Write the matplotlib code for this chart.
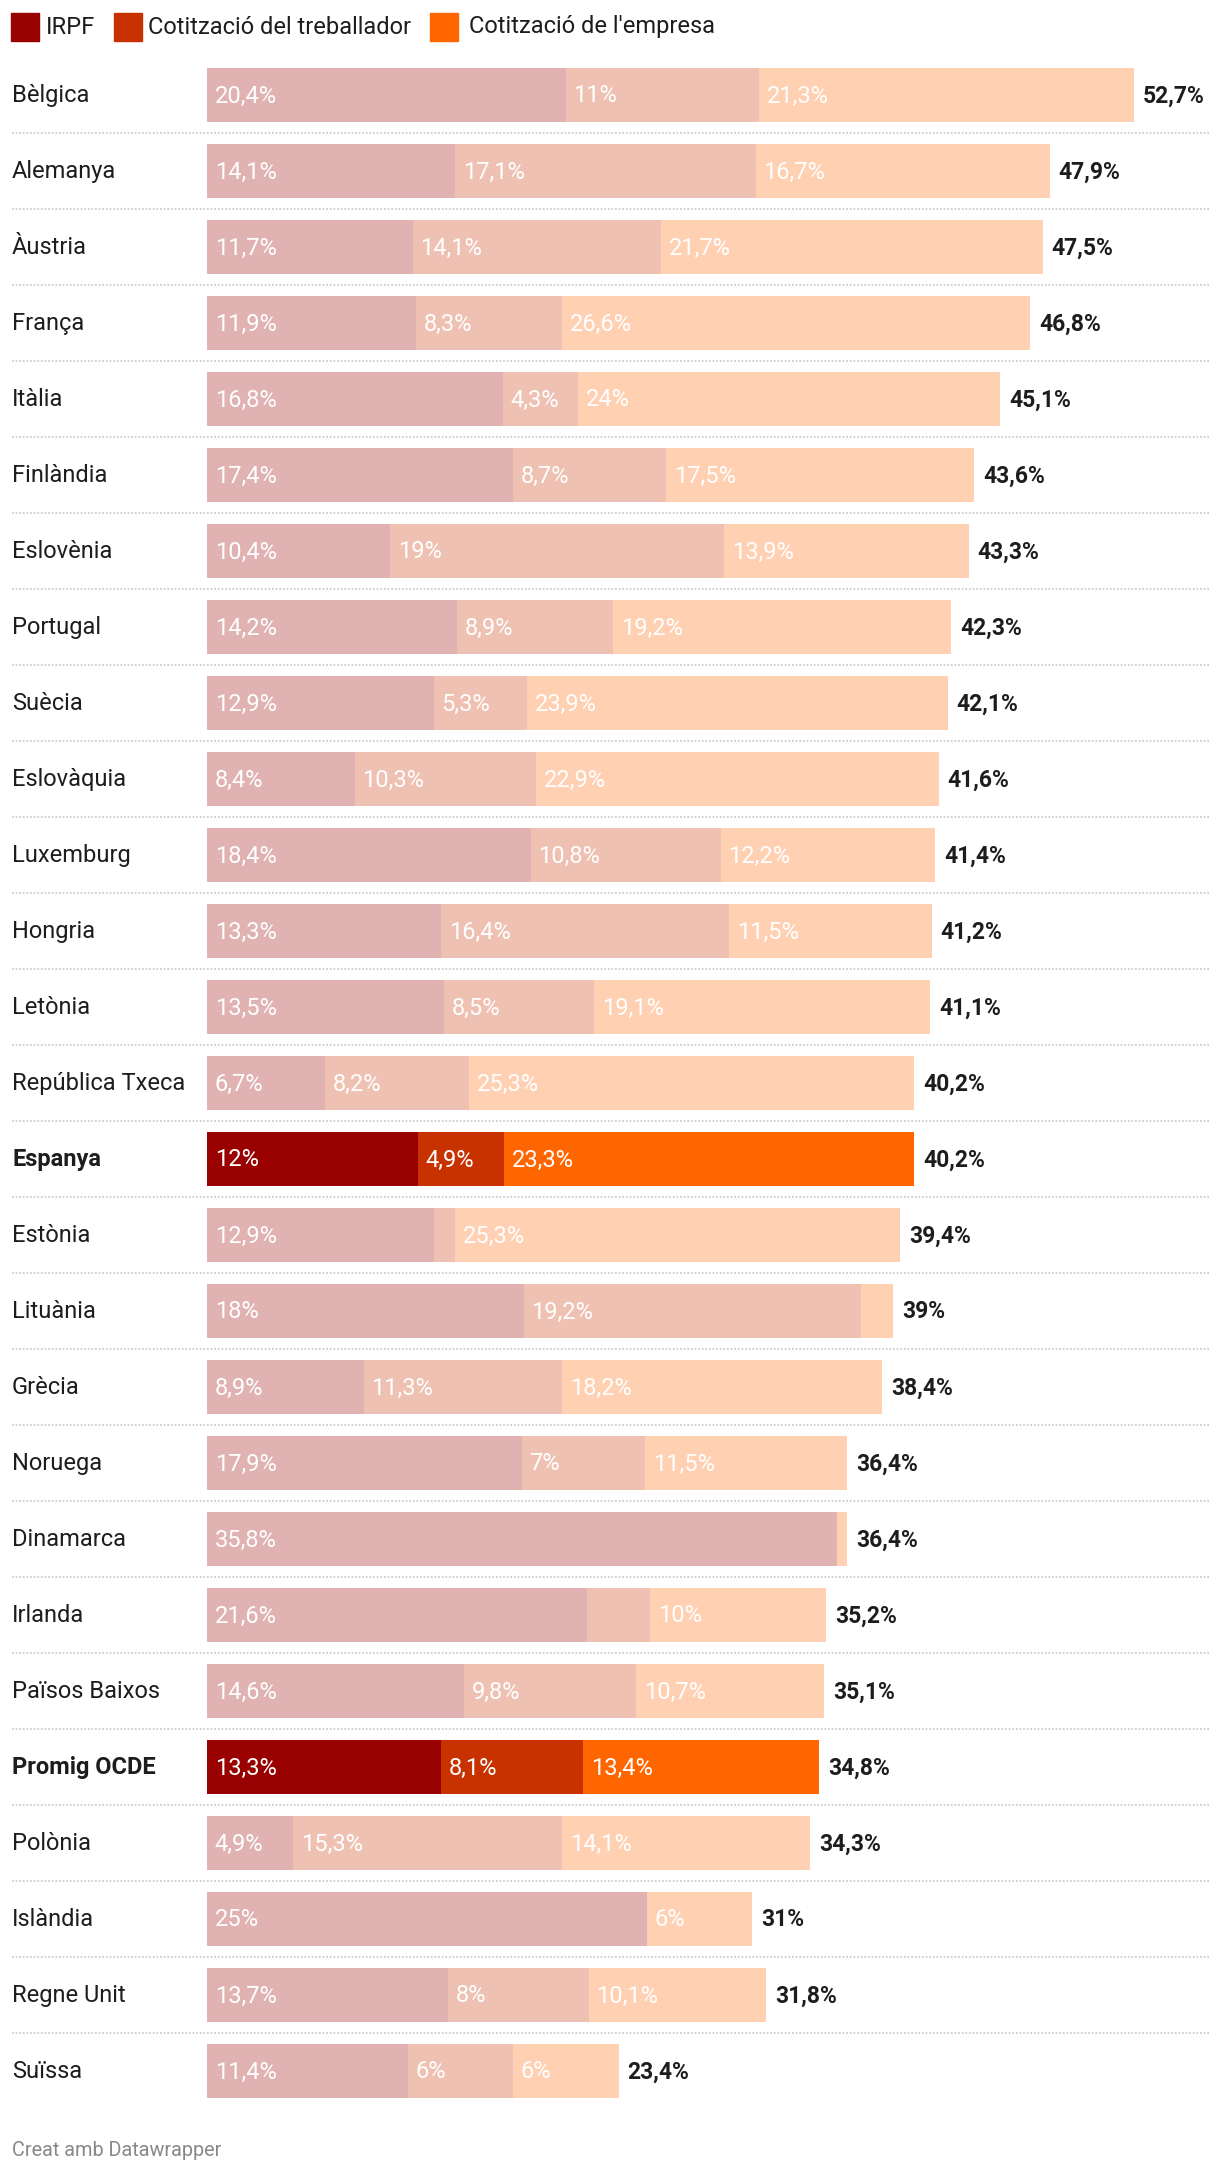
import matplotlib.pyplot as plt
from matplotlib.patches import Rectangle

plt.rcParams['font.family'] = ['Roboto', 'DejaVu Sans']

paisos = ['Bèlgica', 'Alemanya', 'Àustria', 'França', 'Itàlia', 'Finlàndia', 'Eslovènia',
          'Portugal', 'Suècia', 'Eslovàquia', 'Luxemburg', 'Hongria', 'Letònia',
          'República Txeca', 'Espanya', 'Estònia', 'Lituània', 'Grècia', 'Noruega',
          'Dinamarca', 'Irlanda', 'Països Baixos', 'Promig OCDE', 'Polònia', 'Islàndia',
          'Regne Unit', 'Suïssa']
irpf = [20.4, 14.1, 11.7, 11.9, 16.8, 17.4, 10.4, 14.2, 12.9, 8.4, 18.4, 13.3, 13.5,
        6.7, 12, 12.9, 18, 8.9, 17.9, 35.8, 21.6, 14.6, 13.3, 4.9, 25, 13.7, 11.4]
treballador = [11, 17.1, 14.1, 8.3, 4.3, 8.7, 19, 8.9, 5.3, 10.3, 10.8, 16.4, 8.5,
               8.2, 4.9, 1.2, 19.2, 11.3, 7, 0, 3.6, 9.8, 8.1, 15.3, 0, 8, 6]
empresa = [21.3, 16.7, 21.7, 26.6, 24, 17.5, 13.9, 19.2, 23.9, 22.9, 12.2, 11.5, 19.1,
           25.3, 23.3, 25.3, 1.8, 18.2, 11.5, 0.6, 10, 10.7, 13.4, 14.1, 6, 10.1, 6]
totals = [52.7, 47.9, 47.5, 46.8, 45.1, 43.6, 43.3, 42.3, 42.1, 41.6, 41.4, 41.2, 41.1,
          40.2, 40.2, 39.4, 39, 38.4, 36.4, 36.4, 35.2, 35.1, 34.8, 34.3, 31, 31.8, 23.4]
destacats = ['Espanya', 'Promig OCDE']

series = ['IRPF', 'Cotització del treballador', "Cotització de l'empresa"]
colors = ['#990000', '#c83200', '#ff6600']
text_color = '#1d1d1d'
fs = 17


def fmt(v):
    return f'{v:g}'.replace('.', ',') + '%'


W, H = 1220, 2176
fig = plt.figure(figsize=(W / 100, H / 100), dpi=100)
# axes: x=0 at 207px, 17.59 px per %, rows every 76 px
ax = fig.add_axes([207 / W, (H - 2109) / H, 1000 / W, 2052 / H])
ax.set_xlim(0, 1000 / 17.59)
ax.set_ylim(len(paisos) - 0.5, -0.5)
ax.axis('off')

for i, pais in enumerate(paisos):
    destacat = pais in destacats
    alpha = 1 if destacat else 0.3
    left = 0
    for vals, c in zip([irpf, treballador, empresa], colors):
        v = vals[i]
        if v > 0:
            ax.barh(i, v, left=left, height=0.71, color=c, alpha=alpha, linewidth=0)
            if v >= 4:
                ax.annotate(fmt(v), (left, i), xytext=(5.5, -0.7), textcoords='offset points',
                            ha='left', va='center', color='white', fontsize=fs)
        left += v
    ax.annotate(fmt(totals[i]), (left, i), xytext=(6.5, -0.7), textcoords='offset points',
                ha='left', va='center', color=text_color, fontsize=16.5, fontweight='bold')
    ax.annotate(pais, (-0.195, i), xycoords=ax.get_yaxis_transform(), xytext=(0, -0.7),
                textcoords='offset points', ha='left', va='center',
                color=text_color, fontsize=fs, fontweight='bold' if destacat else 'normal')
    if i < len(paisos) - 1:
        ax.plot([-0.195, 1.003], [i + 0.5, i + 0.5], transform=ax.get_yaxis_transform(),
                color='#cfcfcf', lw=1.3, ls=(0, (1, 1)), clip_on=False)

# legend
leg_x = [(11, 46), (114, 148), (430, 469)]
for (sx, tx), name, c in zip(leg_x, series, colors):
    fig.patches.append(Rectangle((sx / W, 1 - 41 / H), 28 / W, 28 / H, color=c,
                                 transform=fig.transFigure))
    fig.text(tx / W, 1 - 27 / H, name, ha='left', va='center', color=text_color,
             fontsize=fs)

fig.text(12 / W, 1 - 2150 / H, 'Creat amb Datawrapper', ha='left', va='center',
         color='#888888', fontsize=14.3)

plt.savefig('out.png', dpi=100)
